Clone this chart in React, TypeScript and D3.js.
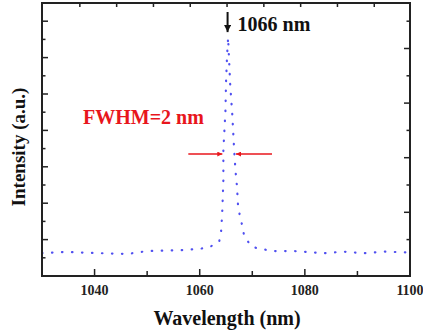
import React, { useEffect, useRef } from 'react';
import * as d3 from 'd3';

// spectrum (wavelength in nm, intensity in a.u.)
const wavelengths = [
  1030, 1034.6, 1040.3, 1046.2, 1050, 1055.7, 1059.7, 1061.8, 1063.7, 1064.1,
  1064.3, 1064.5, 1064.5, 1064.7, 1064.9, 1065.0, 1065.2, 1065.4, 1065.8, 1066.2,
  1066.5, 1066.8, 1067.1, 1067.3, 1067.7, 1068.1, 1068.5, 1070.0, 1071.9, 1073.8,
  1077.8, 1083.5, 1087.3, 1091.3, 1095.1, 1099.1, 1100,
];
const intensities = [
  1.26, 1.32, 1.26, 1.21, 1.37, 1.41, 1.48, 1.58, 1.88, 2.53,
  3.63, 5.27, 6.92, 8.02, 9.12, 10.6, 12.1, 13.1, 10.5, 8.85,
  7.2, 5.8, 4.89, 3.79, 3.24, 2.75, 2.14, 1.59, 1.48, 1.37,
  1.37, 1.25, 1.34, 1.25, 1.34, 1.30, 1.32,
];

const xTicks = [1040, 1050, 1060, 1070, 1080, 1090, 1100];
const xLabels = [1040, 1060, 1080, 1100];
const topTicks = [1037.2, 1044.2, 1051.2, 1058.2, 1065.2, 1072.2, 1079.2, 1086.2, 1093.2];
const yTicks = [1, 2, 3, 4, 5, 6, 7, 8, 9, 10, 11, 12, 13, 14];
const rightTicks = [2, 3.5, 5, 6.5, 8, 9.5, 11, 12.5, 14];

const peakWavelength = 1065.3;
const fwhmLevel = 6.7;
const fwhmLeft = 1064.3;
const fwhmRight = 1066.9;

const SERIF = '"Liberation Serif", "Times New Roman", serif';

const App = () => {
  const svgRef = useRef<SVGSVGElement | null>(null);

  useEffect(() => {
    const width = 423;
    const height = 333;
    const margin = { top: 3, right: 13, bottom: 57, left: 42 };

    const svg = d3.select(svgRef.current);
    svg.selectAll('*').remove();
    svg.attr('width', width).attr('height', height);

    svg.append('rect').attr('width', width).attr('height', height).attr('fill', '#fff');

    const x = d3.scaleLinear().domain([1030, 1100]).range([margin.left, width - margin.right]);
    const y = d3.scaleLinear().domain([0, 15]).range([height - margin.bottom, margin.top]);

    const defs = svg.append('defs');
    defs.append('marker')
      .attr('id', 'red-head')
      .attr('viewBox', '0 0 10 10')
      .attr('refX', 10)
      .attr('refY', 5)
      .attr('markerWidth', 8)
      .attr('markerHeight', 5)
      .attr('markerUnits', 'userSpaceOnUse')
      .attr('orient', 'auto')
      .append('path')
      .attr('d', 'M0,0L10,5L0,10Z')
      .attr('fill', '#e8161c');
    defs.append('marker')
      .attr('id', 'black-head')
      .attr('viewBox', '0 0 10 10')
      .attr('refX', 10)
      .attr('refY', 5)
      .attr('markerWidth', 11)
      .attr('markerHeight', 7)
      .attr('markerUnits', 'userSpaceOnUse')
      .attr('orient', 'auto')
      .append('path')
      .attr('d', 'M0,0L10,5L0,10Z')
      .attr('fill', '#111');

    // spectrum as a dotted line
    const points: [number, number][] = wavelengths.map((w, i) => [w, intensities[i]]);
    const line = d3.line<[number, number]>()
      .x(d => x(d[0]))
      .y(d => y(d[1]));
    svg.append('path')
      .datum(points)
      .attr('d', line)
      .attr('fill', 'none')
      .attr('stroke', '#5050f0')
      .attr('stroke-width', 2.2)
      .attr('stroke-linecap', 'round')
      .attr('stroke-dasharray', '0.5 9.5');

    // frame
    const x0 = x(1030), x1 = x(1100), y0 = y(0), y1 = y(15);
    svg.append('rect')
      .attr('x', x0).attr('y', y1)
      .attr('width', x1 - x0).attr('height', y0 - y1)
      .attr('fill', 'none')
      .attr('stroke', '#222')
      .attr('stroke-width', 2);

    const ticks = svg.append('g').attr('stroke', '#222').attr('stroke-width', 1.5);

    // bottom ticks (inward)
    ticks.append('g').selectAll('line').data(xTicks).join('line')
      .attr('x1', d => x(d)).attr('x2', d => x(d))
      .attr('y1', y0).attr('y2', (d, i) => y0 - (i % 2 === 0 ? 7 : 5));

    // top ticks (inward)
    ticks.append('g').selectAll('line').data(topTicks).join('line')
      .attr('x1', d => x(d)).attr('x2', d => x(d))
      .attr('y1', y1).attr('y2', y1 + 4);

    // left ticks
    ticks.append('g').selectAll('line').data(yTicks).join('line')
      .attr('x1', x0).attr('x2', d => x0 + (d % 2 === 0 ? 6 : 3.5))
      .attr('y1', d => y(d)).attr('y2', d => y(d));

    // right ticks
    ticks.append('g').selectAll('line').data(rightTicks).join('line')
      .attr('x1', x1).attr('x2', (d, i) => x1 - (i % 2 === 1 ? 6 : 3.5))
      .attr('y1', d => y(d)).attr('y2', d => y(d));

    // tick labels
    svg.append('g').selectAll('text').data(xLabels).join('text')
      .attr('x', d => x(d))
      .attr('y', y0 + 19)
      .attr('text-anchor', 'middle')
      .attr('font-family', SERIF)
      .attr('font-weight', 'bold')
      .attr('font-size', 14)
      .attr('fill', '#222')
      .text(d => d);

    // axis titles
    svg.append('text')
      .attr('x', 227)
      .attr('y', 325)
      .attr('text-anchor', 'middle')
      .attr('font-family', SERIF)
      .attr('font-weight', 'bold')
      .attr('font-size', 20)
      .attr('fill', '#111')
      .text('Wavelength (nm)');

    svg.append('text')
      .attr('transform', `translate(25,147) rotate(-90)`)
      .attr('text-anchor', 'middle')
      .attr('font-family', SERIF)
      .attr('font-weight', 'bold')
      .attr('font-size', 19)
      .attr('fill', '#111')
      .text('Intensity (a.u.)');

    // peak annotation
    svg.append('line')
      .attr('x1', x(peakWavelength)).attr('x2', x(peakWavelength))
      .attr('y1', y1 + 9).attr('y2', y(13.4))
      .attr('stroke', '#111')
      .attr('stroke-width', 2)
      .attr('marker-end', 'url(#black-head)');

    svg.append('text')
      .attr('x', x(peakWavelength) + 10)
      .attr('y', 31)
      .attr('font-family', SERIF)
      .attr('font-weight', 'bold')
      .attr('font-size', 20)
      .attr('fill', '#111')
      .text('1066 nm');

    // FWHM annotation
    svg.append('text')
      .attr('x', 83)
      .attr('y', 124)
      .attr('font-family', SERIF)
      .attr('font-weight', 'bold')
      .attr('font-size', 20)
      .attr('fill', '#e8161c')
      .text('FWHM=2 nm');

    svg.append('line')
      .attr('x1', x(fwhmLeft) - 34).attr('x2', x(fwhmLeft))
      .attr('y1', y(fwhmLevel)).attr('y2', y(fwhmLevel))
      .attr('stroke', '#e8161c')
      .attr('stroke-width', 1.5)
      .attr('marker-end', 'url(#red-head)');

    svg.append('line')
      .attr('x1', x(fwhmRight) + 36).attr('x2', x(fwhmRight))
      .attr('y1', y(fwhmLevel)).attr('y2', y(fwhmLevel))
      .attr('stroke', '#e8161c')
      .attr('stroke-width', 1.5)
      .attr('marker-end', 'url(#red-head)');
  }, []);

  return (
    <svg
      ref={svgRef}
      style={{ position: 'absolute', left: 0, top: 0, display: 'block' }}
    />
  );
};

export default App;
